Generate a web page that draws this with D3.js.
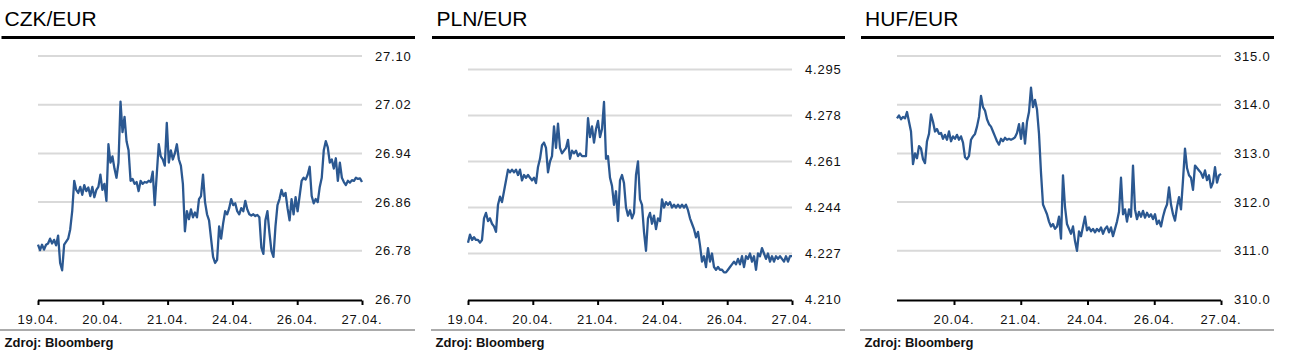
<!DOCTYPE html>
<html><head><meta charset="utf-8">
<script src="https://cdn.jsdelivr.net/npm/d3@7"></script>
<style>
html,body{margin:0;padding:0;background:#fff;}
svg{display:block;font-family:"Liberation Sans",Arial,sans-serif;}
</style></head>
<body>
<svg id="chart" width="1292" height="361"></svg>
<script>
// ---------- DATA ----------
const titles = ["CZK/EUR", "PLN/EUR", "HUF/EUR"];
const source = "Zdroj: Bloomberg";

const czkTicks = [26.70, 26.78, 26.86, 26.94, 27.02, 27.10];
const plnTicks = [4.210, 4.227, 4.244, 4.261, 4.278, 4.295];
const hufTicks = [310.0, 311.0, 312.0, 313.0, 314.0, 315.0];

const dateLabels = ["19.04.", "20.04.", "21.04.", "24.04.", "26.04.", "27.04."];
const hufDateLabels = ["20.04.", "21.04.", "24.04.", "26.04.", "27.04."];

const czkValues = [26.790,26.781,26.790,26.782,26.790,26.792,26.800,26.792,26.798,26.789,
26.805,26.760,26.748,26.790,26.795,26.800,26.815,26.845,26.895,26.880,
26.875,26.885,26.872,26.888,26.878,26.884,26.870,26.885,26.868,26.880,
26.885,26.905,26.880,26.890,26.862,26.955,26.925,26.935,26.915,26.900,
26.925,27.025,26.975,27.000,26.960,26.945,26.895,26.898,26.890,26.893,
26.878,26.895,26.890,26.893,26.892,26.895,26.893,26.910,26.855,26.905,
26.955,26.935,26.930,26.920,26.990,26.925,26.945,26.930,26.940,26.955,
26.930,26.920,26.890,26.812,26.845,26.832,26.848,26.835,26.843,26.835,
26.865,26.870,26.905,26.860,26.840,26.830,26.800,26.770,26.760,26.765,
26.820,26.800,26.825,26.845,26.840,26.850,26.865,26.855,26.858,26.845,
26.840,26.850,26.845,26.862,26.848,26.840,26.838,26.840,26.837,26.839,
26.835,26.785,26.775,26.830,26.845,26.810,26.780,26.770,26.820,26.855,
26.865,26.880,26.870,26.875,26.850,26.830,26.865,26.840,26.868,26.845,
26.870,26.895,26.900,26.897,26.905,26.918,26.870,26.858,26.865,26.860,
26.885,26.900,26.945,26.960,26.950,26.925,26.930,26.915,26.932,26.895,
26.925,26.900,26.893,26.888,26.895,26.892,26.896,26.895,26.900,26.898,
26.899,26.893];

const plnValues = [4.231,4.234,4.232,4.233,4.232,4.232,4.231,4.232,4.240,4.242,
4.239,4.240,4.238,4.237,4.235,4.245,4.248,4.246,4.250,4.254,
4.258,4.257,4.258,4.257,4.258,4.256,4.258,4.254,4.256,4.255,
4.256,4.255,4.254,4.255,4.253,4.259,4.262,4.267,4.268,4.266,
4.257,4.261,4.263,4.274,4.266,4.275,4.266,4.264,4.265,4.266,
4.269,4.262,4.265,4.264,4.265,4.263,4.264,4.263,4.263,4.263,
4.277,4.270,4.274,4.268,4.273,4.276,4.270,4.273,4.283,4.262,
4.263,4.255,4.252,4.245,4.250,4.239,4.254,4.256,4.253,4.244,
4.241,4.243,4.240,4.242,4.256,4.261,4.247,4.245,4.235,4.228,
4.240,4.242,4.238,4.241,4.236,4.240,4.239,4.247,4.244,4.246,
4.245,4.246,4.244,4.245,4.244,4.245,4.244,4.245,4.244,4.245,
4.243,4.240,4.238,4.236,4.233,4.235,4.230,4.224,4.226,4.222,
4.229,4.224,4.227,4.222,4.221,4.222,4.221,4.221,4.220,4.220,
4.221,4.222,4.223,4.224,4.223,4.225,4.223,4.226,4.222,4.226,
4.225,4.227,4.224,4.226,4.221,4.227,4.226,4.229,4.227,4.225,
4.227,4.224,4.226,4.224,4.226,4.225,4.226,4.225,4.224,4.226,
4.224,4.226,4.226];

const hufValues = [313.72,313.78,313.70,313.75,313.72,313.85,313.65,313.45,312.78,313.00,
312.90,313.15,313.10,312.88,312.80,313.25,313.40,313.80,313.65,313.45,
313.50,313.40,313.42,313.30,313.38,313.28,313.45,313.25,313.35,313.30,
313.38,313.28,313.35,313.22,312.92,312.88,312.95,313.28,313.35,313.40,
313.55,313.75,314.18,313.95,313.88,313.70,313.60,313.55,313.45,313.35,
313.25,313.18,313.30,313.25,313.32,313.28,313.30,313.28,313.30,313.33,
313.42,313.60,313.30,313.62,313.20,313.65,313.85,314.35,313.95,314.10,
313.90,313.40,312.60,311.95,311.85,311.75,311.60,311.50,311.55,311.45,
311.50,311.70,311.25,312.55,311.90,311.55,311.45,311.35,311.50,311.20,
311.00,311.40,311.30,311.50,311.70,311.42,311.48,311.40,311.45,311.38,
311.45,311.40,311.48,311.35,311.45,311.50,311.38,311.48,311.30,311.45,
311.60,311.80,312.50,311.75,311.85,311.60,311.85,311.70,312.75,311.85,
311.65,311.80,311.70,311.82,311.68,311.78,311.70,311.75,311.65,311.75,
311.55,311.62,311.50,311.70,311.85,311.95,312.30,311.95,311.75,311.62,
311.90,312.10,311.85,312.45,313.10,312.70,312.55,312.50,312.25,312.75,
312.70,312.65,312.60,312.50,312.65,312.45,312.55,312.30,312.40,312.72,
312.40,312.55,312.58];

// ---------- LAYOUT ----------
const panels = [
  {title: titles[0], values: czkValues, ticks: czkTicks, fmt: d3.format(".2f"),
   labels: dateLabels, labelPos: [0,1,2,3,4,5], xStart: 0,
   off: 0, yTop: 56},
  {title: titles[1], values: plnValues, ticks: plnTicks, fmt: d3.format(".3f"),
   labels: dateLabels, labelPos: [0,1,2,3,4,5], xStart: 0,
   off: 430, yTop: 69.5},
  {title: titles[2], values: hufValues, ticks: hufTicks, fmt: d3.format(".1f"),
   labels: hufDateLabels, labelPos: [1,2,3,4,5], xStart: 0.146,
   off: 859, yTop: 56}
];

const svg = d3.select("#chart");
const lineColor = "#2b5891";

panels.forEach((p, k) => {
  const g = svg.append("g").attr("transform", `translate(${p.off},0)`);
  const left = 38, right = 362, bottom = 299.5;

  // title
  g.append("text").attr("x", k === 0 ? 4.5 : (k === 1 ? 6.5 : 6))
    .attr("y", 26).attr("font-size", 21).attr("fill", "#000").text(p.title);
  g.append("line").attr("x1", k === 0 ? 1.5 : 2).attr("x2", 415)
    .attr("y1", 37.5).attr("y2", 37.5).attr("stroke", "#000").attr("stroke-width", 3);

  const x = d3.scaleLinear().domain([p.xStart, 5]).range([left, right]);
  const y = d3.scaleLinear().domain([p.ticks[0], p.ticks[p.ticks.length - 1]]).range([bottom, p.yTop]);

  // gridlines
  g.append("g").selectAll("line").data(p.ticks.slice(1)).join("line")
    .attr("x1", left).attr("x2", right)
    .attr("y1", d => y(d)).attr("y2", d => y(d))
    .attr("stroke", "#d9d9d9").attr("stroke-width", 2);

  // y labels
  g.append("g").selectAll("text").data(p.ticks).join("text")
    .attr("x", 375).attr("y", d => y(d)).attr("dy", "0.36em")
    .attr("font-size", 13).attr("letter-spacing", "0.8px").attr("fill", "#111")
    .text(d => p.fmt(d));

  // x axis
  const xAxis = d3.axisBottom(x).tickValues(p.labelPos).tickSize(4.5).tickFormat("");
  const ax = g.append("g").attr("transform", `translate(0,${bottom + 1})`).call(xAxis);
  ax.select(".domain").attr("stroke", "#000").attr("stroke-width", 2).attr("d", `M${left},0H${right}`);
  ax.selectAll(".tick line").attr("stroke", "#000").attr("stroke-width", 2);

  g.append("g").selectAll("text").data(p.labelPos).join("text")
    .attr("x", (d) => x(d)).attr("y", 323.5).attr("text-anchor", "middle")
    .attr("font-size", 13).attr("letter-spacing", "0.8px").attr("fill", "#111")
    .text((d, i) => p.labels[i]);

  // data line
  const n = p.values.length;
  const pts = p.values.map((v, i) => [p.xStart + (5 - p.xStart) * i / (n - 1), v]);
  g.append("path").datum(pts)
    .attr("fill", "none").attr("stroke", lineColor).attr("stroke-width", 2.3)
    .attr("stroke-linejoin", "round")
    .attr("d", d3.line().x(d => x(d[0])).y(d => y(d[1])));

  // bottom separator + source
  g.append("line").attr("x1", k === 0 ? 0 : 1).attr("x2", 415)
    .attr("y1", 330).attr("y2", 330).attr("stroke", "#8f8f8f").attr("stroke-width", 1.7);
  g.append("text").attr("x", k === 0 ? 4.5 : 5.5).attr("y", 346.5)
    .attr("font-size", 13).attr("font-weight", "bold").attr("fill", "#111").text(source);
});
</script>
</body></html>
